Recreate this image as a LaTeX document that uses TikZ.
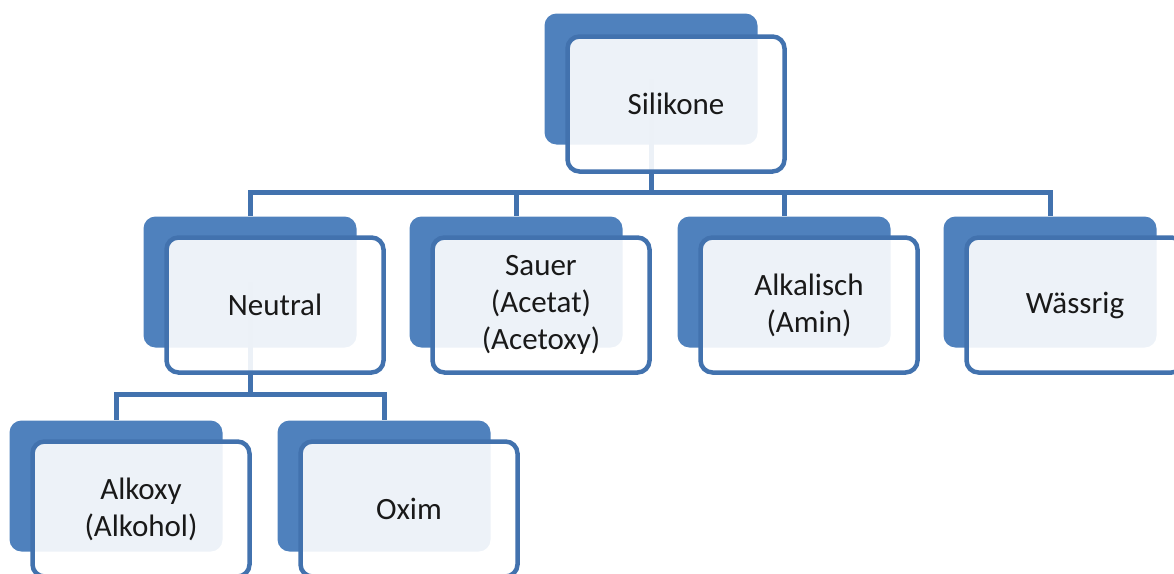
\documentclass[tikz,border=0pt]{standalone}
\usepackage{fontspec}
\setmainfont{Carlito}
\usetikzlibrary{positioning,calc}
\definecolor{boxblue}{RGB}{79,129,189}
\definecolor{lineblue}{RGB}{66,114,174}

\begin{document}
\begin{tikzpicture}[x=1pt, y=-1pt,
    back_style/.style={rectangle, rounded corners=12pt, fill=boxblue, minimum width=213pt, minimum height=131pt, inner sep=0pt},
    front_style/.style={rectangle, rounded corners=12pt, draw=lineblue, line width=4.5pt, fill=white, fill opacity=0.9, text opacity=1, draw opacity=1, minimum width=217pt, minimum height=135pt, inner sep=0pt, align=center, text=black!90, font=\fontsize{31}{37}\selectfont},
    edge_style/.style={draw=lineblue, line width=5pt}]

	\useasboundingbox (0,0) rectangle (1174,573);
	\clip (0,0) rectangle (1174,573);

	\node[back_style] (silikone_back) at (651, 79) {};
	\node[back_style] (neutral_back) at (250, 282) {};
	\node[back_style] (sauer_back) at (516, 282) {};
	\node[back_style] (alkalisch_back) at (784, 282) {};
	\node[back_style] (waessrig_back) at (1050, 282) {};
	\node[back_style] (alkoxy_back) at (116, 486) {};
	\node[back_style] (oxim_back) at (384, 486) {};

	\coordinate (top_joint) at (651, 192);
	\coordinate (neutral_joint) at (250, 394);

	\draw[edge_style] (silikone_back.center) -- (top_joint);
	\draw[edge_style] (top_joint) -| (neutral_back.north);
	\draw[edge_style] (top_joint) -| (sauer_back.north);
	\draw[edge_style] (top_joint) -| (alkalisch_back.north);
	\draw[edge_style] (top_joint) -| (waessrig_back.north);

	\draw[edge_style] (neutral_back.center) -- (neutral_joint);
	\draw[edge_style] (neutral_joint) -| (alkoxy_back.north);
	\draw[edge_style] (neutral_joint) -| (oxim_back.north);

	\node[front_style] (silikone) at ([shift={(25,25)}]silikone_back.center) {Silikone};
	\node[front_style] (neutral) at ([shift={(25,23)}]neutral_back.center) {Neutral};
	\node[front_style] (sauer) at ([shift={(25,23)}]sauer_back.center) {Sauer\\(Acetat)\\(Acetoxy)};
	\node[front_style] (alkalisch) at ([shift={(25,23)}]alkalisch_back.center) {Alkalisch\\(Amin)};
	\node[front_style] (waessrig) at ([shift={(25,23)}]waessrig_back.center) {Wässrig};
	\node[front_style] (alkoxy) at ([shift={(25,23)}]alkoxy_back.center) {Alkoxy\\(Alkohol)};
	\node[front_style] (oxim) at ([shift={(25,23)}]oxim_back.center) {Oxim};
\end{tikzpicture}
\end{document}
